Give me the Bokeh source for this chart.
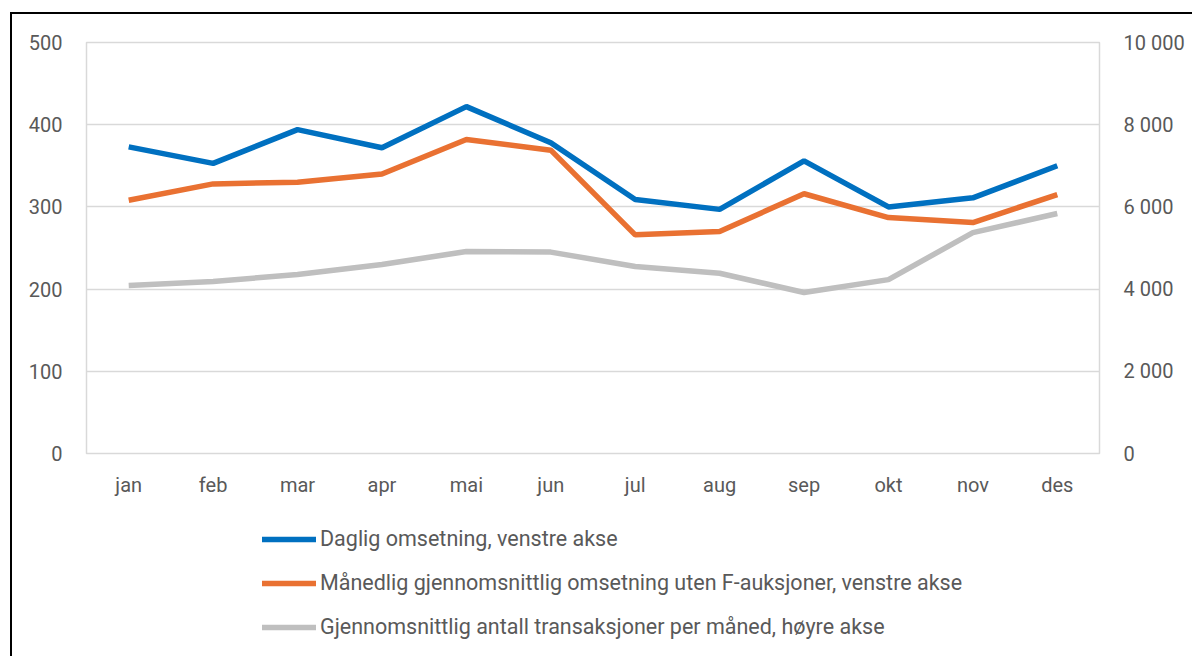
from bokeh.plotting import figure
from bokeh.layouts import column
from bokeh.models import Range1d, FactorRange, LinearAxis, Legend, LegendItem, CustomJSTickFormatter, SingleIntervalTicker
from bokeh.embed import file_html
from bokeh.resources import INLINE

months = ["jan", "feb", "mar", "apr", "mai", "jun", "jul", "aug", "sep", "okt", "nov", "des"]
daglig = [373, 353, 394, 372, 422, 378, 309, 297, 356, 300, 311, 350]
maanedlig = [308, 328, 330, 340, 382, 369, 266, 270, 316, 287, 281, 315]
transaksjoner = [4090, 4185, 4355, 4600, 4915, 4900, 4550, 4387, 3917, 4230, 5375, 5840]
labels = [
    "Daglig omsetning, venstre akse",
    "Månedlig gjennomsnittlig omsetning uten F-auksjoner, venstre akse",
    "Gjennomsnittlig antall transaksjoner per måned, høyre akse",
]
colors = ["#0070C0", "#E97132", "#BFBFBF"]

FONT = "Roboto"
TXT = "#595959"

p = figure(width=1182, height=489, x_range=FactorRange(*months), y_range=Range1d(0, 500),
           output_backend="svg", toolbar_location=None,
           min_border_left=74, min_border_right=95, min_border_top=28, min_border_bottom=50)
p.styles = {"border-top": "2px solid black", "border-left": "2px solid black",
            "margin-left": "10px", "margin-top": "12px"}
p.extra_y_ranges = {"right": Range1d(0, 10000)}

p.outline_line_color = "#D9D9D9"
p.outline_line_width = 1.5
p.xgrid.grid_line_color = None
p.ygrid.grid_line_color = "#D9D9D9"
p.ygrid.grid_line_width = 1.5
p.yaxis.ticker = SingleIntervalTicker(interval=100)

ax_r = LinearAxis(y_range_name="right", ticker=SingleIntervalTicker(interval=2000),
                  formatter=CustomJSTickFormatter(code="return tick.toFixed(0).replace(/\\B(?=(\\d{3})+(?!\\d))/g, ' ');"))
p.add_layout(ax_r, "right")

for ax in [p.xaxis[0], p.yaxis[0], ax_r]:
    ax.axis_line_color = None
    ax.major_tick_line_color = None
    ax.minor_tick_line_color = None
    ax.major_label_text_font = FONT
    ax.major_label_text_font_size = "20px"
    ax.major_label_text_color = TXT
p.yaxis[0].major_label_standoff = 18
ax_r.major_label_standoff = 18
p.xaxis[0].major_label_standoff = 13

series = [daglig, maanedlig, transaksjoner]
p.line(months, daglig, line_color=colors[0], line_width=5.5)
p.line(months, maanedlig, line_color=colors[1], line_width=5.5)
p.line(months, transaksjoner, line_color=colors[2], line_width=5.5, y_range_name="right")

# legend panel below the chart (series drawn off-range so only the legend shows)
p2 = figure(width=1182, height=155, x_range=FactorRange(*months), y_range=Range1d(-20000, -10000),
            x_axis_type=None, y_axis_type=None, output_backend="svg", toolbar_location=None,
            min_border=0)
p2.outline_line_color = None
p2.xgrid.grid_line_color = None
p2.ygrid.grid_line_color = None
p2.styles = {"border-left": "2px solid black", "margin-left": "10px"}
items = []
for lab, c, s in zip(labels, colors, series):
    r = p2.line(months, s, line_color=c, line_width=5.5, line_cap="round")
    items.append(LegendItem(label=lab, renderers=[r]))
legend = Legend(items=items, location=(176, 17), orientation="vertical",
                glyph_width=54, glyph_height=20, label_height=20, spacing=19,
                label_standoff=4, padding=0, margin=0,
                label_text_font=FONT, label_text_font_size="21.5px", label_text_color=TXT,
                border_line_color=None, background_fill_alpha=0)
p2.add_layout(legend, "center")

open("out.html", "w").write(file_html(column(p, p2, spacing=0), INLINE))
